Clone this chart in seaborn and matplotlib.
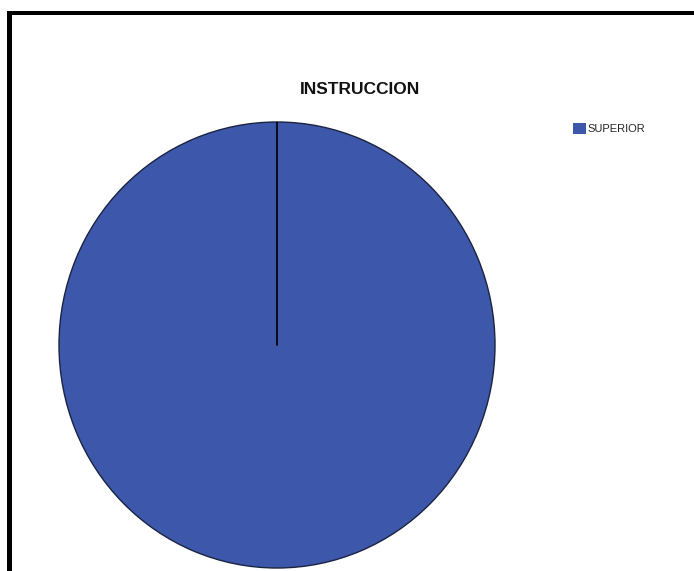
import numpy as np
import matplotlib
matplotlib.use("Agg")
import matplotlib.pyplot as plt
import seaborn as sns
from matplotlib.patches import Rectangle

sns.set_theme(style="white")
plt.rcParams['font.family'] = ['Liberation Sans', 'DejaVu Sans']

title = "INSTRUCCION"
categories = ["SUPERIOR"]
values = [100]
colors = ["#3D58AB"]

W, H = 694, 571
fig = plt.figure(figsize=(W / 100, H / 100), dpi=100)
fig.patch.set_facecolor("white")

# frame (top and left black borders)
fig.add_artist(Rectangle((7 / W, 1 - 15 / H), 1 - 7 / W, 4 / H, transform=fig.transFigure,
                         facecolor="black", edgecolor="none"))
fig.add_artist(Rectangle((7 / W, 0), 5 / W, 1 - 11 / H, transform=fig.transFigure,
                         facecolor="black", edgecolor="none"))

# pie axes
x0, x1, y0, y1 = 59, 495, 122, 568
ax = fig.add_axes([x0 / W, 1 - y1 / H, (x1 - x0) / W, (y1 - y0) / H])
startangle = 90
wedges, _ = ax.pie(values, colors=colors, startangle=startangle, counterclock=False,
                   wedgeprops=dict(edgecolor="#1a2340", linewidth=1.0))
ax.set_aspect("auto")
ax.set_xlim(-1.0, 1.0)
ax.set_ylim(-1.0, 1.0)
ax.axis("off")
# radial separator line at the start angle
a = np.deg2rad(startangle)
ax.plot([0, np.cos(a)], [0, np.sin(a)], color="black", linewidth=1.2)

fig.text(360 / W, 1 - 89 / H, title, ha="center", va="center",
         fontsize=12.5, fontweight="bold", color="#111111")

leg = fig.legend(wedges, categories, loc="upper left", bbox_to_anchor=(573 / W, 1 - 123 / H),
                 frameon=False, fontsize=8, handlelength=1.15, handleheight=1.15,
                 handletextpad=0.15, borderaxespad=0, borderpad=0)
for h in leg.legend_handles:
    h.set_edgecolor("none")

fig.savefig("out.png", dpi=100, facecolor="white")
